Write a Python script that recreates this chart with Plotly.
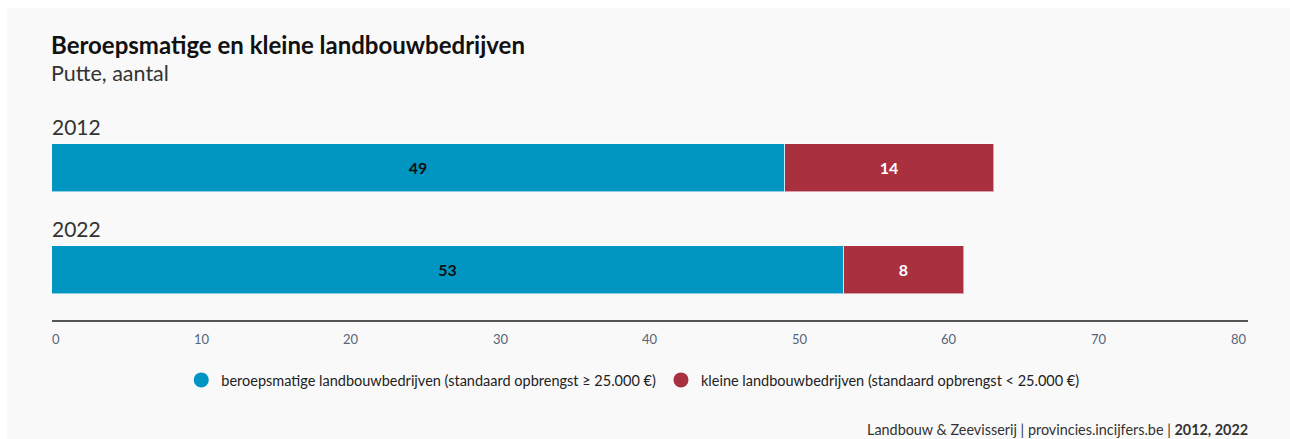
import plotly.graph_objects as go

# Data
years = ["2012", "2022"]
beroeps = [49, 53]
klein = [14, 8]
tick_values = [0, 10, 20, 30, 40, 50, 60, 70, 80]
series_names = [
    "beroepsmatige landbouwbedrijven (standaard opbrengst ≥ 25.000 €)",
    "kleine landbouwbedrijven (standaard opbrengst < 25.000 €)",
]
colors = ["#0096c1", "#a8303f"]

FONT = "Lato"
W, H = 1290, 439
ML, MR, MT, MB = 52, 42, 110, 119
PW, PH = W - ML - MR, H - MT - MB

fig = go.Figure()

fig.add_trace(go.Bar(
    y=years, x=beroeps, orientation="h", name=series_names[0],
    marker=dict(color=colors[0], line=dict(color="rgba(255,255,255,0.55)", width=1)),
    text=[str(v) for v in beroeps], textposition="inside", insidetextanchor="middle",
    textangle=0, textfont=dict(family=FONT, size=16, color="#111111", weight="bold"),
    width=0.47, showlegend=False, hoverinfo="skip",
))
fig.add_trace(go.Bar(
    y=years, x=klein, orientation="h", name=series_names[1],
    marker=dict(color=colors[1], line=dict(color="rgba(255,255,255,0.55)", width=1)),
    text=[str(v) for v in klein], textposition="inside", insidetextanchor="middle",
    textangle=0, textfont=dict(family=FONT, size=16, color="#ffffff", weight="bold"),
    width=0.47, showlegend=False, hoverinfo="skip",
))

# legend entries with round markers
for name, c in zip(series_names, colors):
    fig.add_trace(go.Scatter(
        x=[None], y=[None], mode="markers", name=name,
        marker=dict(symbol="circle", size=15, color=c), showlegend=True,
    ))

annotations = []
# year labels above each bar (category index positions)
for i, yr in enumerate(years):
    annotations.append(dict(
        x=0, y=i, xref="x", yref="y", xanchor="left", yanchor="middle",
        yshift=42, xshift=-2, text=yr, showarrow=False,
        font=dict(family=FONT, size=21, color="#333333"),
    ))
# axis tick labels
for i, t in enumerate(tick_values):
    if i == 0:
        anchor, shift = "left", -2
    elif i == len(tick_values) - 1:
        anchor, shift = "right", 1
    else:
        anchor, shift = "center", 0
    annotations.append(dict(
        x=t, y=0, xref="x", yref="paper", xanchor=anchor, yanchor="middle",
        yshift=-19, xshift=shift, text=str(t), showarrow=False,
        font=dict(family=FONT, size=13, color="#56657a"),
    ))
# title and subtitle
annotations.append(dict(
    x=0, y=1, xref="paper", yref="paper", xanchor="left", yanchor="middle",
    yshift=66, xshift=-3, text="<b>Beroepsmatige en kleine landbouwbedrijven</b>", showarrow=False,
    font=dict(family=FONT, size=24, color="#111111"),
))
annotations.append(dict(
    x=0, y=1, xref="paper", yref="paper", xanchor="left", yanchor="middle",
    yshift=37, xshift=-3, text="Putte, aantal", showarrow=False,
    font=dict(family=FONT, size=21.5, color="#333333"),
))
# source line
annotations.append(dict(
    x=1, y=0, xref="paper", yref="paper", xanchor="right", yanchor="middle",
    yshift=-109, xshift=2, text="Landbouw &amp; Zeevisserij | provincies.incijfers.be | <b>2012, 2022</b>",
    showarrow=False, font=dict(family=FONT, size=14.4, color="#333333"),
))

fig.update_layout(
    width=W, height=H,
    margin=dict(l=ML, r=MR, t=MT, b=MB),
    barmode="stack",
    bargap=0,
    paper_bgcolor="#ffffff",
    plot_bgcolor="rgba(0,0,0,0)",
    font=dict(family=FONT, color="#333333"),
    xaxis=dict(range=[0, 80], showgrid=False, zeroline=False, showticklabels=False,
               showline=True, linecolor="#555555", linewidth=1.5, ticks="", fixedrange=True),
    yaxis=dict(type="category", range=[1.49, -0.569], showgrid=False, zeroline=False,
               showticklabels=False, showline=False, ticks="", fixedrange=True),
    legend=dict(orientation="h", x=0.486, xanchor="center", y=-60 / PH, yanchor="middle",
                font=dict(family=FONT, size=14.5, color="#222222"),
                bgcolor="rgba(0,0,0,0)", itemwidth=30, traceorder="normal"),
    annotations=annotations,
    shapes=[dict(
        type="rect", xref="paper", yref="paper", layer="below",
        x0=-(ML - 7) / PW, x1=1 + (MR + 2) / PW,
        y0=-(MB + 2) / PH, y1=1 + (MT - 8) / PH,
        fillcolor="#f9f9f9", line=dict(width=0),
    )],
)

fig.write_html("out.html")
